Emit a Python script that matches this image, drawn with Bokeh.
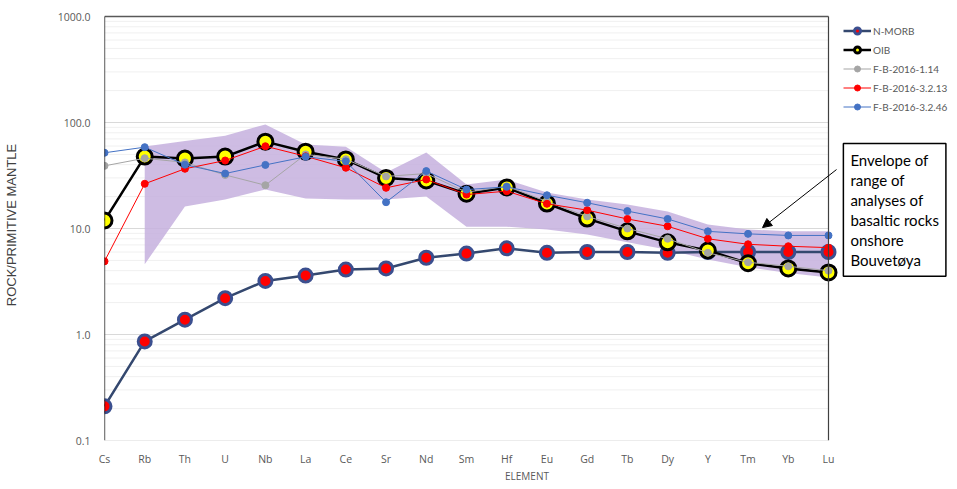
import numpy as np
from bokeh.plotting import figure
from bokeh.models import (FixedTicker, PrintfTickFormatter, Legend, LegendItem,
                          Label, Arrow, NormalHead)
from bokeh.embed import file_html
from bokeh.resources import INLINE

elements = ["Cs", "Rb", "Th", "U", "Nb", "La", "Ce", "Sr", "Nd", "Sm", "Hf", "Eu",
            "Gd", "Tb", "Dy", "Y", "Tm", "Yb", "Lu"]
n_morb = [0.21, 0.86, 1.38, 2.2, 3.2, 3.6, 4.1, 4.2, 5.3, 5.8, 6.5, 5.9, 6.0, 6.0, 5.9, 6.0, 6.0, 6.0, 6.0]
oib = [11.9, 47.7, 45.7, 47.7, 66, 53, 44.8, 30, 28.4, 21.3, 24.4, 17.2, 12.4, 9.4, 7.4, 6.2, 4.7, 4.2, 3.85]
fb_1_14 = [39, 46, 42, 32, 25.6, 50, 45, 31, 33, 22, 25, 18, 13, 10, 8, 5.9, 4.8, 4.4, 4.0]
fb_3_2_13 = [4.9, 26.4, 36.6, 43.8, 59.7, 48, 37.4, 24.2, 29, 20.9, 22.5, 17.1, 14.9, 12.3, 10.5, 8.0, 7.1, 6.8, 6.6]
fb_3_2_46 = [51.8, 58.5, 40, 33, 39.8, 47.5, 43, 17.7, 34.8, 23.3, 24.7, 20.6, 17.5, 14.6, 12.3, 9.4, 8.9, 8.6, 8.6]
env_elements = elements[1:]
env_upper = [59.4, 67, 75, 96, 62, 59, 33.7, 52, 26, 29, 21.8, 18.8, 16.8, 14.5, 10.9, 9.8, 9.4, 9.4]
env_lower = [4.6, 16.1, 18.8, 23.3, 19.2, 18.8, 18.8, 20, 10.4, 10.4, 9.8, 8.8, 7.4, 6.3, 5.1, 4.3, 3.8, 3.45]
y_ticks = [0.1, 1, 10, 100, 1000]

x = list(range(len(elements)))
x_env = [elements.index(e) for e in env_elements]
x_last = len(elements) - 1
minor = [m * 10.0 ** k for k in range(-1, 3) for m in range(2, 10)]

# frame spans from the y axis to the right edge of the figure; the plot box ends at Lu / 1000
FW, BOX_H, TOP_PAD = 845, 424, 7
x_end = x_last * FW / 724.0
decades = np.log10(y_ticks[-1] / y_ticks[0])
y_end = y_ticks[-1] * 10 ** (decades * TOP_PAD / BOX_H)

p = figure(frame_width=FW, frame_height=BOX_H + TOP_PAD, y_axis_type="log", x_range=(0, x_end),
           y_range=(y_ticks[0], y_end), output_backend="svg", toolbar_location=None,
           min_border_left=0, min_border_right=0, min_border_top=9, min_border_bottom=0)
p.outline_line_color = None
p.background_fill_color = "white"
p.border_fill_color = "white"
p.xgrid.grid_line_color = None
p.ygrid.grid_line_color = None

# gridlines limited to the plot box
p.segment(x0=[0] * len(minor), x1=[x_last] * len(minor), y0=minor, y1=minor,
          line_color="#f0f0f0", line_width=1)
p.segment(x0=[0] * 3, x1=[x_last] * 3, y0=y_ticks[1:4], y1=y_ticks[1:4],
          line_color="#d9d9d9", line_width=1)
p.segment(x0=[0], x1=[x_last], y0=[y_ticks[0]], y1=[y_ticks[0]], line_color="#d9d9d9", line_width=1.2)

# envelope
p.varea(x=x_env, y1=env_lower, y2=env_upper, fill_color="#c6b0de", fill_alpha=0.85)

# N-MORB
r_nm_l = p.line(x, n_morb, line_color="#34486f", line_width=2.5)
r_nm_s = p.scatter(x, n_morb, size=13, fill_color="#ff0000", line_color="#3b4f8f", line_width=3)
# OIB
r_oib_l = p.line(x, oib, line_color="black", line_width=2.5)
r_oib_s = p.scatter(x, oib, size=15, fill_color="#ffff00", line_color="black", line_width=3)
# samples
r_g_l = p.line(x, fb_1_14, line_color="#a5a5a5", line_width=1)
r_g_s = p.scatter(x, fb_1_14, size=7, fill_color="#a5a5a5", line_color="#a5a5a5")
r_r_l = p.line(x, fb_3_2_13, line_color="#ff0000", line_width=1)
r_r_s = p.scatter(x, fb_3_2_13, size=7, fill_color="#ff0000", line_color="#ff0000")
r_b_l = p.line(x, fb_3_2_46, line_color="#4472c4", line_width=1)
r_b_s = p.scatter(x, fb_3_2_46, size=7, fill_color="#4472c4", line_color="#4472c4")

# plot box lines: top, right, left axis
p.segment(x0=[0], x1=[x_last], y0=[y_ticks[-1]], y1=[y_ticks[-1]], line_color="#595959", line_width=1.5)
p.segment(x0=[x_last], x1=[x_last], y0=[y_ticks[0]], y1=[y_ticks[-1]], line_color="#404040", line_width=1.2)
p.segment(x0=[0], x1=[0], y0=[y_ticks[0]], y1=[y_ticks[-1]], line_color="black", line_width=1.3)

# axes
p.xaxis.ticker = FixedTicker(ticks=x)
p.xaxis.major_label_overrides = {i: e for i, e in enumerate(elements)}
p.xaxis.axis_line_color = None
p.xaxis.major_tick_line_color = None
p.xaxis.minor_tick_line_color = None
p.xaxis.major_tick_in = 0
p.xaxis.major_tick_out = 0
p.xaxis.major_label_standoff = 11
p.xaxis.major_label_text_font = "Open Sans"
p.xaxis.major_label_text_font_size = "10.5px"
p.xaxis.major_label_text_color = "#595959"
p.xaxis.axis_label = "ELEMENT"
p.xaxis.axis_label_text_font = "Open Sans"
p.xaxis.axis_label_text_font_size = "10px"
p.xaxis.axis_label_text_font_style = "normal"
p.xaxis.axis_label_text_color = "#595959"
p.xaxis.axis_label_standoff = 0

p.yaxis.ticker = FixedTicker(ticks=y_ticks, minor_ticks=minor)
p.yaxis.formatter = PrintfTickFormatter(format="%.1f")
p.yaxis.axis_line_color = None
p.yaxis.major_tick_line_color = None
p.yaxis.minor_tick_line_color = None
p.yaxis.major_tick_in = 0
p.yaxis.major_tick_out = 0
p.yaxis.major_label_standoff = 10
p.yaxis.major_label_text_font = "Open Sans"
p.yaxis.major_label_text_font_size = "10.5px"
p.yaxis.major_label_text_color = "#595959"
p.yaxis.axis_label = "ROCK/PRIMITIVE MANTLE"
p.yaxis.axis_label_text_font = "Liberation Sans"
p.yaxis.axis_label_text_font_size = "13px"
p.yaxis.axis_label_text_font_style = "normal"
p.yaxis.axis_label_text_color = "#404040"
p.yaxis.axis_label_standoff = 36

# legend
legend = Legend(items=[
    LegendItem(label="N-MORB", renderers=[r_nm_l, r_nm_s]),
    LegendItem(label="OIB", renderers=[r_oib_l, r_oib_s]),
    LegendItem(label="F-B-2016-1.14", renderers=[r_g_l, r_g_s]),
    LegendItem(label="F-B-2016-3.2.13", renderers=[r_r_l, r_r_s]),
    LegendItem(label="F-B-2016-3.2.46", renderers=[r_b_l, r_b_s]),
], location=(739, 326), margin=0, padding=2, spacing=4, glyph_width=28, glyph_height=15,
    label_height=15, label_standoff=2, border_line_color=None, background_fill_alpha=0,
    label_text_font="Lato", label_text_font_size="10px", label_text_color="#595959")
p.add_layout(legend)

# annotation box
p.add_layout(Label(x=18.37, y=63.3, text="Envelope of\nrange of\nanalyses of\nbasaltic rocks\nonshore\nBouvetøya",
                   anchor="top_left", text_font="Lato", text_font_size="15px",
                   text_color="black", text_line_height=1.12, padding=7,
                   background_fill_color="white", border_line_color="black", border_line_width=1.5))
p.add_layout(Arrow(x_start=18.2, y_start=36, x_end=16.36, y_end=10.2, line_color="black", line_width=1,
                   end=NormalHead(size=9, fill_color="black", line_color="black")))

open("out.html", "w").write(file_html(p, INLINE))
